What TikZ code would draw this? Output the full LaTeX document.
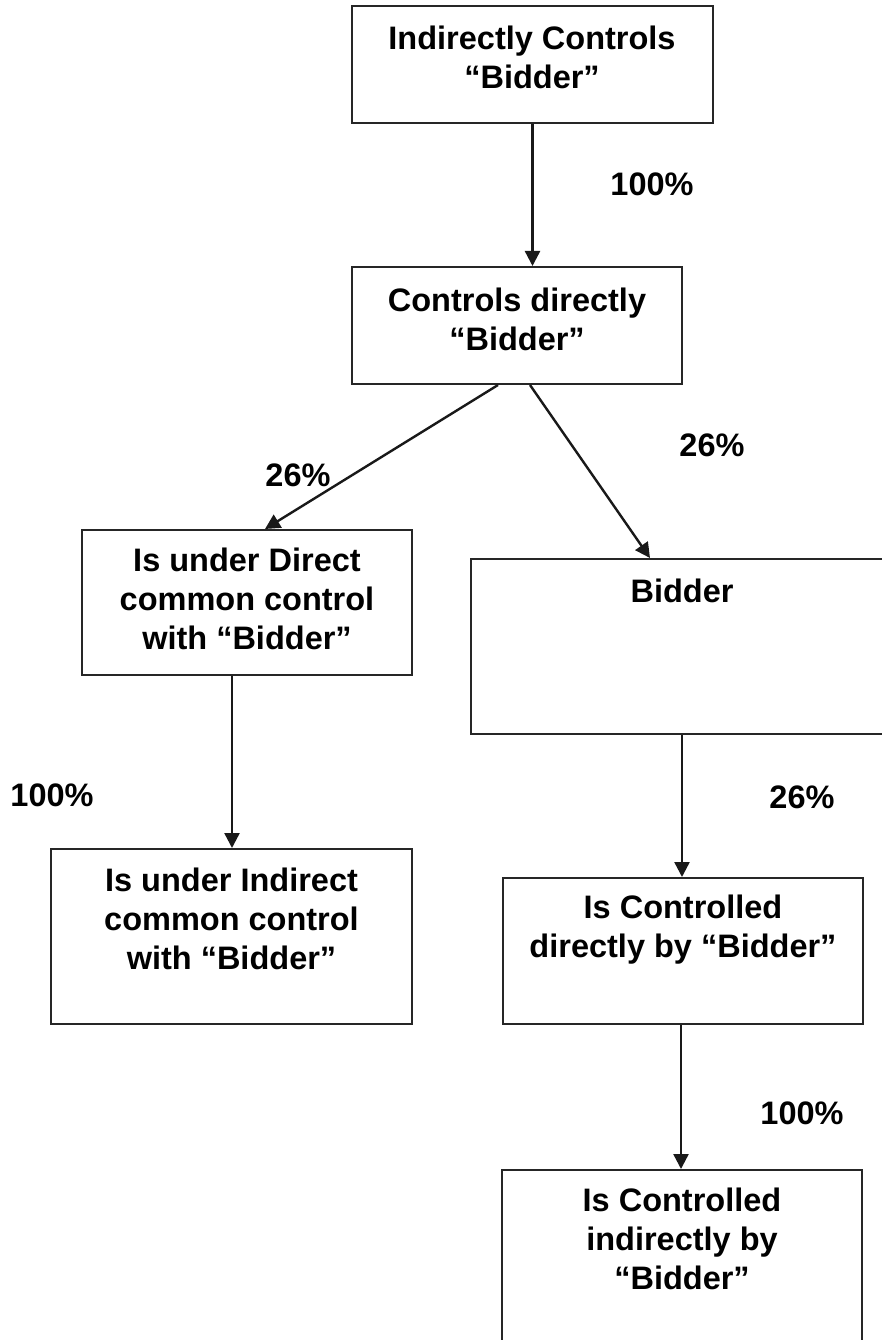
\documentclass[tikz,border=0pt]{standalone}
\usepackage{fontspec}
\setmainfont{Liberation Sans}
\usetikzlibrary{arrows.meta}
\begin{document}
\begin{tikzpicture}[x=1pt,y=-1pt,
  box/.style={draw=black!85, line width=2pt, rectangle, inner sep=0pt},
  txt/.style={font=\fontsize{32.5}{39}\selectfont\bfseries, align=center, inner sep=0pt},
  pct/.style={font=\fontsize{32.5}{39}\selectfont\bfseries, inner sep=0pt},
  conn/.style={line width=2.4pt, draw=black!90, -{Triangle[length=15pt,width=15pt]}}]
\useasboundingbox (0,0) rectangle (882,1340);
% boxes
\node[box, minimum width=361pt, minimum height=117pt] (b1) at (532.5,64.5) {};
\node[box, minimum width=330pt, minimum height=117pt] (b2) at (517,325.5) {};
\node[box, minimum width=330pt, minimum height=145pt] (b3) at (247,602.5) {};
\node[box, minimum width=422pt, minimum height=175pt] (b4) at (682,646.5) {};
\node[box, minimum width=361pt, minimum height=175pt] (b5) at (231.5,936.5) {};
\node[box, minimum width=360pt, minimum height=146pt] (b6) at (683,951) {};
\node[box, minimum width=360pt, minimum height=175pt] (b7) at (682,1257.5) {};
% texts
\node[txt] (t1) at (532,57) {Indirectly Controls\\“Bidder”};
\node[txt] (t2) at (517,319) {Controls directly\\“Bidder”};
\node[txt] (t3) at (247,599) {Is under Direct\\common control\\with “Bidder”};
\node[txt] (t4) at (682,591) {Bidder};
\node[txt] (t5) at (231.5,919) {Is under Indirect\\common control\\with “Bidder”};
\node[txt] (t6) at (683,930) {Is Controlled\\directly by “Bidder”};
\node[txt] (t7) at (682,1239) {Is Controlled\\indirectly by\\“Bidder”};
% connectors
\draw[conn] (b1.south) -- (b1.south |- b2.north);
\draw[conn] ([xshift=-19pt]b2.south) -- ([xshift=18pt]b3.north);
\draw[conn] ([xshift=13pt]b2.south) -- ([xshift=-32pt]b4.north);
\draw[conn] ([xshift=-15pt]b3.south) -- ([xshift=-15pt]b3.south |- b5.north);
\draw[conn] (b4.south) -- (b4.south |- b6.north);
\draw[conn] ([xshift=-2pt]b6.south) -- ([xshift=-2pt]b6.south |- b7.north);
% labels
\node[pct] (p1) at (652,184) {100\%};
\node[pct] (p2) at (298,475) {26\%};
\node[pct] (p3) at (712,445) {26\%};
\node[pct] (p4) at (52,795) {100\%};
\node[pct] (p5) at (802,797) {26\%};
\node[pct] (p6) at (802,1113) {100\%};
\end{tikzpicture}
\end{document}
